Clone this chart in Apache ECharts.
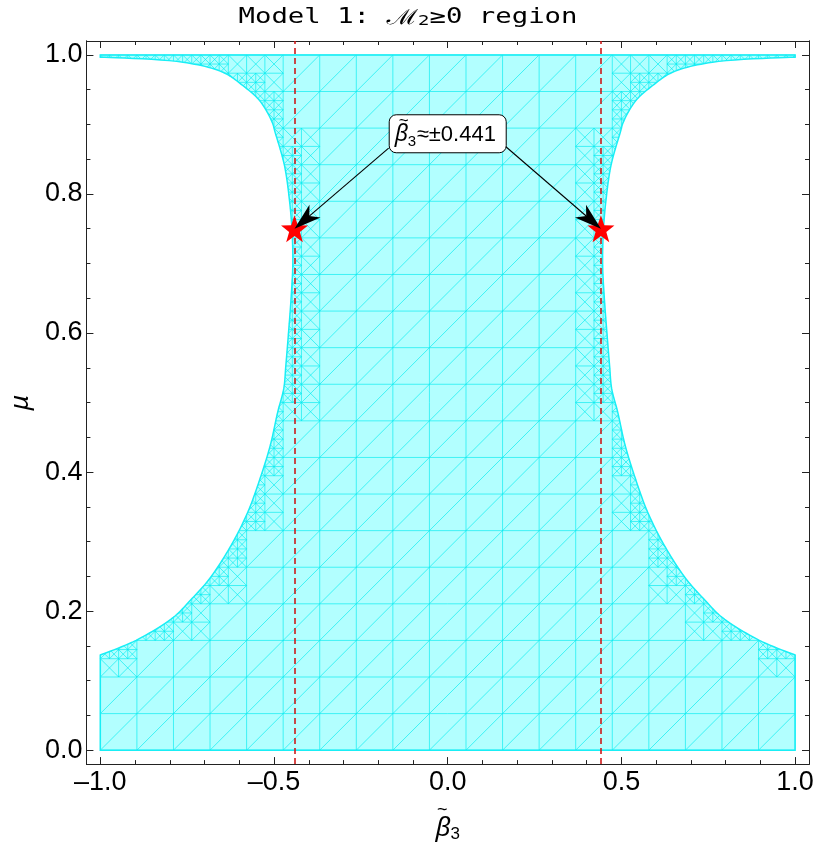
<!DOCTYPE html>
<html><head><meta charset="utf-8">
<script src="https://cdn.jsdelivr.net/npm/echarts@6/dist/echarts.min.js"></script>
<style>html,body{margin:0;padding:0;background:#fff}#c{width:817px;height:848px}</style>
</head><body><div id="c"></div>
<script>
// ---- data ----
// boundary of the region: half-width |beta3| as a function of mu (left side is the mirror)
const boundaryMu       = [0.137, 0.158, 0.191, 0.216, 0.247, 0.295, 0.343, 0.391, 0.438, 0.487, 0.520, 0.553, 0.602, 0.649, 0.697, 0.746, 0.793, 0.841, 0.889, 0.904, 0.934, 0.956, 0.975, 0.9895, 0.9967];
const boundaryHalfBeta = [1.000, 0.897, 0.790, 0.740, 0.685, 0.623, 0.575, 0.540, 0.511, 0.489, 0.472, 0.466, 0.458, 0.451, 0.446, 0.448, 0.456, 0.470, 0.497, 0.506, 0.541, 0.590, 0.647, 0.762, 1.000];
const betaRange = [-1, 1];
const muRange = [0, 1];
const criticalBeta = [-0.441, 0.441];
const criticalMu = 0.75;
const annotationText = '≈±0.441';
const annotationPos = [0, 0.888];
const arrowStarts = [[-0.170, 0.866], [0.165, 0.869]];
const meshDivisions = 19;
const xMajorTicks = [-1, -0.5, 0, 0.5, 1];
const xMinorTicks = [-0.9, -0.8, -0.7, -0.6, -0.4, -0.3, -0.2, -0.1, 0.1, 0.2, 0.3, 0.4, 0.6, 0.7, 0.8, 0.9];
const yMajorTicks = [0, 0.2, 0.4, 0.6, 0.8, 1];
const yMinorTicks = [0.05, 0.1, 0.15, 0.25, 0.3, 0.35, 0.45, 0.5, 0.55, 0.65, 0.7, 0.75, 0.85, 0.9, 0.95];

// ---- geometry helpers (rendering only) ----
function densifyCurve(hs, ms) {
  const P = hs.map((h, i) => [h * 0.5, ms[i]]);
  const out = [];
  const n = P.length;
  for (let i = 0; i < n - 1; i++) {
    const p0 = P[Math.max(0, i - 1)], p1 = P[i], p2 = P[i + 1], p3 = P[Math.min(n - 1, i + 2)];
    const d = (a, b) => Math.pow(Math.hypot(b[0] - a[0], b[1] - a[1]) || 1e-6, 0.5);
    const t0 = 0, t1 = t0 + d(p0, p1), t2 = t1 + d(p1, p2), t3 = t2 + d(p2, p3);
    const steps = 12;
    for (let k = 0; k < steps; k++) {
      const t = t1 + (t2 - t1) * k / steps;
      const L = (a, b, ta, tb) => [
        (tb - t) / (tb - ta) * a[0] + (t - ta) / (tb - ta) * b[0],
        (tb - t) / (tb - ta) * a[1] + (t - ta) / (tb - ta) * b[1]];
      const A1 = L(p0, p1, t0, t1), A2 = L(p1, p2, t1, t2), A3 = L(p2, p3, t2, t3);
      const B1 = L(A1, A2, t0, t2), B2 = L(A2, A3, t1, t3);
      const C = L(B1, B2, t1, t2);
      out.push([Math.min(1, C[0] * 2), C[1]]);
    }
  }
  out.push([hs[n - 1], ms[n - 1]]);
  return out;
}
const denseCurve = densifyCurve(boundaryHalfBeta, boundaryMu);
function halfWidth(m) {
  if (m <= denseCurve[0][1] || m >= denseCurve[denseCurve.length - 1][1]) return 1;
  for (let i = 0; i < denseCurve.length - 1; i++) {
    const a = denseCurve[i], b = denseCurve[i + 1];
    if (m >= a[1] && m <= b[1]) {
      const t = (m - a[1]) / ((b[1] - a[1]) || 1e-9);
      return a[0] + (b[0] - a[0]) * t;
    }
  }
  return 1;
}
const EPS = 1e-7;
function inside(b, m) {
  return m >= muRange[0] - EPS && m <= muRange[1] + EPS && Math.abs(b) <= halfWidth(m) + EPS;
}
const regionOutline = [];
regionOutline.push([betaRange[0], muRange[0]], [betaRange[1], muRange[0]]);
denseCurve.forEach(p => regionOutline.push([p[0], p[1]]));
regionOutline.push([betaRange[1], muRange[1]], [betaRange[0], muRange[1]]);
for (let i = denseCurve.length - 1; i >= 0; i--) regionOutline.push([-denseCurve[i][0], denseCurve[i][1]]);

function clipSeg(p, q, out) {
  const n = 24;
  const at = t => [p[0] + (q[0] - p[0]) * t, p[1] + (q[1] - p[1]) * t];
  const edge = (ta, tb, aIn) => {
    for (let k = 0; k < 20; k++) {
      const tm = (ta + tb) / 2;
      const pm = at(tm);
      if (inside(pm[0], pm[1]) === aIn) ta = tm; else tb = tm;
    }
    return (ta + tb) / 2;
  };
  let startT = null, prevT = 0, prevIn = inside(p[0], p[1]);
  if (prevIn) startT = 0;
  for (let k = 1; k <= n; k++) {
    const t = k / n, pt = at(t), inn = inside(pt[0], pt[1]);
    if (inn && !prevIn) startT = edge(prevT, t, false);
    if (!inn && prevIn) { out.push([at(startT), at(edge(prevT, t, true))]); startT = null; }
    prevIn = inn; prevT = t;
  }
  if (prevIn && startT !== null) out.push([at(startT), q]);
}
function cellState(b0, m0, b1, m1) {
  let ins = 0, outs = 0;
  for (let i = 0; i <= 4; i++) for (let j = 0; j <= 4; j++) {
    if (inside(b0 + (b1 - b0) * i / 4, m0 + (m1 - m0) * j / 4)) ins++; else outs++;
  }
  return outs === 0 ? 'in' : (ins === 0 ? 'out' : 'mixed');
}
const meshSegs = [];
(function buildMesh() {
  const N = meshDivisions;
  const db = (betaRange[1] - betaRange[0]) / N, dm = (muRange[1] - muRange[0]) / N;
  const raw = [];
  for (let k = 0; k <= N; k++) {
    const b = betaRange[0] + k * db, m = muRange[0] + k * dm;
    raw.push([[b, muRange[0]], [b, muRange[1]]]);
    raw.push([[betaRange[0], m], [betaRange[1], m]]);
  }
  function xCell(b0, m0, b1, m1, level) {
    const s = cellState(b0, m0, b1, m1);
    if (s === 'out') return;
    if (s === 'mixed' && level < 2) {
      const bm = (b0 + b1) / 2, mm = (m0 + m1) / 2;
      raw.push([[bm, m0], [bm, m1]], [[b0, mm], [b1, mm]]);
      xCell(b0, m0, bm, mm, level + 1); xCell(bm, m0, b1, mm, level + 1);
      xCell(b0, mm, bm, m1, level + 1); xCell(bm, mm, b1, m1, level + 1);
      return;
    }
    raw.push([[b0, m0], [b1, m1]], [[b0, m1], [b1, m0]]);
  }
  for (let i = 0; i < N; i++) for (let j = 0; j < N; j++) {
    const b0 = betaRange[0] + i * db, m0 = muRange[0] + j * dm, b1 = b0 + db, m1 = m0 + dm;
    const s = cellState(b0, m0, b1, m1);
    if (s === 'out') continue;
    if (s === 'in') { raw.push([[b0, m0], [b1, m1]]); continue; }
    const bm = (b0 + b1) / 2, mm = (m0 + m1) / 2;
    raw.push([[bm, m0], [bm, m1]], [[b0, mm], [b1, mm]]);
    xCell(b0, m0, bm, mm, 1); xCell(bm, m0, b1, mm, 1);
    xCell(b0, mm, bm, m1, 1); xCell(bm, mm, b1, m1, 1);
  }
  raw.forEach(s => clipSeg(s[0], s[1], meshSegs));
})();

const starPath = 'path://M0,-10 L2.35,-3.24 L9.51,-3.09 L3.8,1.24 L5.88,8.09 L0,4 L-5.88,8.09 L-3.8,1.24 L-9.51,-3.09 L-2.35,-3.24 Z';
const fmtTick = v => (v < 0 ? '\u2013' : '') + Math.abs(v).toFixed(1);
const axisCol = '#222';
const labelFont = { fontFamily: 'Liberation Sans', fontSize: 27, color: '#000' };

function xAx(pos, values, len, showLabel) {
  return {
    type: 'value', min: -1.04, max: 1.04, position: pos, gridIndex: 0,
    axisLine: { show: true, onZero: false, lineStyle: { color: axisCol, width: 1 } },
    axisTick: { show: true, inside: true, length: len, customValues: values, lineStyle: { color: axisCol, width: 1 } },
    axisLabel: showLabel ? Object.assign({ show: true, customValues: values, formatter: fmtTick, margin: 5 }, labelFont) : { show: false },
    splitLine: { show: false }
  };
}
function yAx(pos, values, len, showLabel) {
  return {
    type: 'value', min: -0.02, max: 1.02, position: pos, gridIndex: 0,
    axisLine: { show: true, onZero: false, lineStyle: { color: axisCol, width: 1 } },
    axisTick: { show: true, inside: true, length: len, customValues: values, lineStyle: { color: axisCol, width: 1 } },
    axisLabel: showLabel ? Object.assign({ show: true, customValues: values, formatter: fmtTick, margin: 4 }, labelFont) : { show: false },
    splitLine: { show: false }
  };
}
const xAxes = [xAx('bottom', xMajorTicks, 7, true), xAx('bottom', xMinorTicks, 4, false), xAx('top', xMajorTicks, 7, false), xAx('top', xMinorTicks, 4, false)];
xAxes[0].name = '{t|~}\n{b|β}{s|3}';
xAxes[0].nameLocation = 'middle';
xAxes[0].nameGap = 36;
xAxes[0].nameTextStyle = { align: 'center', rich: {
  t: { fontFamily: 'Liberation Sans', fontSize: 18, color: '#000', lineHeight: 9, padding: [0, 11, 0, 0] },
  b: { fontFamily: 'Noto Sans', fontStyle: 'italic', fontSize: 26, color: '#000', lineHeight: 28 },
  s: { fontFamily: 'Liberation Sans', fontSize: 17, color: '#000', lineHeight: 28, padding: [12, 0, 0, 0] } } };
const yAxes = [yAx('left', yMajorTicks, 7, true), yAx('left', yMinorTicks, 4, false), yAx('right', yMajorTicks, 7, false), yAx('right', yMinorTicks, 4, false)];
yAxes[0].name = 'μ';
yAxes[0].nameLocation = 'middle';
yAxes[0].nameRotate = 90;
yAxes[0].nameGap = 52;
yAxes[0].nameTextStyle = { fontFamily: 'Noto Sans', fontStyle: 'italic', fontSize: 26, color: '#000' };

const chart = echarts.init(document.getElementById('c'), null, { renderer: 'canvas' });
chart.setOption({
  animation: false,
  backgroundColor: '#fff',
  grid: { left: 82, right: 8, top: 41, bottom: 82, show: false },
  graphic: [{
    type: 'text', x: 408, y: 18, scaleX: 1.3, z: 100,
    style: {
      text: '{a|Model 1: }{m|ℳ}{s|2}{a|≥0 region}',
      textAlign: 'center', textVerticalAlign: 'middle',
      rich: {
        a: { fontFamily: 'DejaVu Sans Mono', fontSize: 21, fill: '#000', color: '#000' },
        m: { fontFamily: 'Noto Sans', fontStyle: 'italic', fontSize: 21, fill: '#000', color: '#000' },
        s: { fontFamily: 'DejaVu Sans', fontSize: 14, fill: '#000', color: '#000', padding: [7, 0, 0, 0] }
      }
    }
  }],
  xAxis: xAxes,
  yAxis: yAxes,
  series: [
    {
      type: 'custom', name: 'region', coordinateSystem: 'cartesian2d', silent: true, z: 1,
      data: [[0, 0]],
      renderItem: function (params, api) {
        const pts = regionOutline.map(p => api.coord(p));
        const children = [{ type: 'polygon', shape: { points: pts }, style: { fill: 'rgba(0,255,255,0.30)', stroke: null } }];
        meshSegs.forEach(s => {
          const a = api.coord(s[0]), b = api.coord(s[1]);
          children.push({ type: 'line', shape: { x1: a[0], y1: a[1], x2: b[0], y2: b[1] }, style: { stroke: 'rgba(0,235,240,0.65)', lineWidth: 1 } });
        });
        children.push({ type: 'polygon', shape: { points: pts }, style: { fill: null, stroke: '#19eef5', lineWidth: 1.5 } });
        return { type: 'group', children: children };
      }
    },
    {
      type: 'scatter', name: 'critical', z: 5, silent: true,
      symbol: starPath, symbolSize: 27,
      itemStyle: { color: '#ff0000', opacity: 1 },
      data: criticalBeta.map(b => [b, criticalMu]),
      markLine: {
        silent: true, symbol: ['none', 'none'], label: { show: false },
        lineStyle: { type: [6, 4], color: 'rgba(205,20,20,0.78)', width: 2 },
        data: criticalBeta.map(b => ({ xAxis: b }))
      }
    },
    {
      type: 'custom', name: 'arrows', coordinateSystem: 'cartesian2d', silent: true, z: 6,
      data: arrowStarts.map((s, i) => [s[0], s[1], criticalBeta[i], criticalMu]),
      renderItem: function (params, api) {
        const a = api.coord([api.value(0), api.value(1)]);
        const t = api.coord([api.value(2), api.value(3)]);
        const dx = t[0] - a[0], dy = t[1] - a[1], len = Math.hypot(dx, dy);
        const ux = dx / len, uy = dy / len, nx = -uy, ny = ux;
        const L = 27, W = 8.5;
        const bx = t[0] - ux * L, by = t[1] - uy * L;
        const notch = [t[0] - ux * L * 0.72, t[1] - uy * L * 0.72];
        return { type: 'group', children: [
          { type: 'line', shape: { x1: a[0], y1: a[1], x2: notch[0], y2: notch[1] }, style: { stroke: '#000', lineWidth: 1.1 } },
          { type: 'polygon', shape: { points: [t, [bx + nx * W, by + ny * W], notch, [bx - nx * W, by - ny * W]] }, style: { fill: '#000' } }
        ] };
      }
    },
    {
      type: 'custom', name: 'annotation', coordinateSystem: 'cartesian2d', silent: true, z: 10,
      data: [annotationPos],
      renderItem: function (params, api) {
        const c = api.coord([api.value(0), api.value(1)]);
        const x0 = c[0], y0 = c[1] + 1;
        return { type: 'group', children: [
          { type: 'rect', shape: { x: x0 - 58.5, y: y0 - 19, width: 117, height: 38, r: 7 }, style: { fill: '#fff', stroke: '#000', lineWidth: 1 } },
          { type: 'text', style: { x: x0 - 53, y: y0 + 1, text: 'β', font: 'italic 23px "Noto Sans"', fill: '#000', textAlign: 'left', textVerticalAlign: 'middle' } },
          { type: 'text', style: { x: x0 - 49, y: y0 - 12, text: '~', font: '17px "Liberation Sans"', fill: '#000', textAlign: 'left', textVerticalAlign: 'middle' } },
          { type: 'text', style: { x: x0 - 40, y: y0 + 8, text: '3', font: '15px "Liberation Sans"', fill: '#000', textAlign: 'left', textVerticalAlign: 'middle' } },
          { type: 'text', style: { x: x0 - 31, y: y0 + 1, text: annotationText, font: '22px "Liberation Sans"', fill: '#000', textAlign: 'left', textVerticalAlign: 'middle' } }
        ] };
      }
    }
  ]
});
</script>
</body></html>
